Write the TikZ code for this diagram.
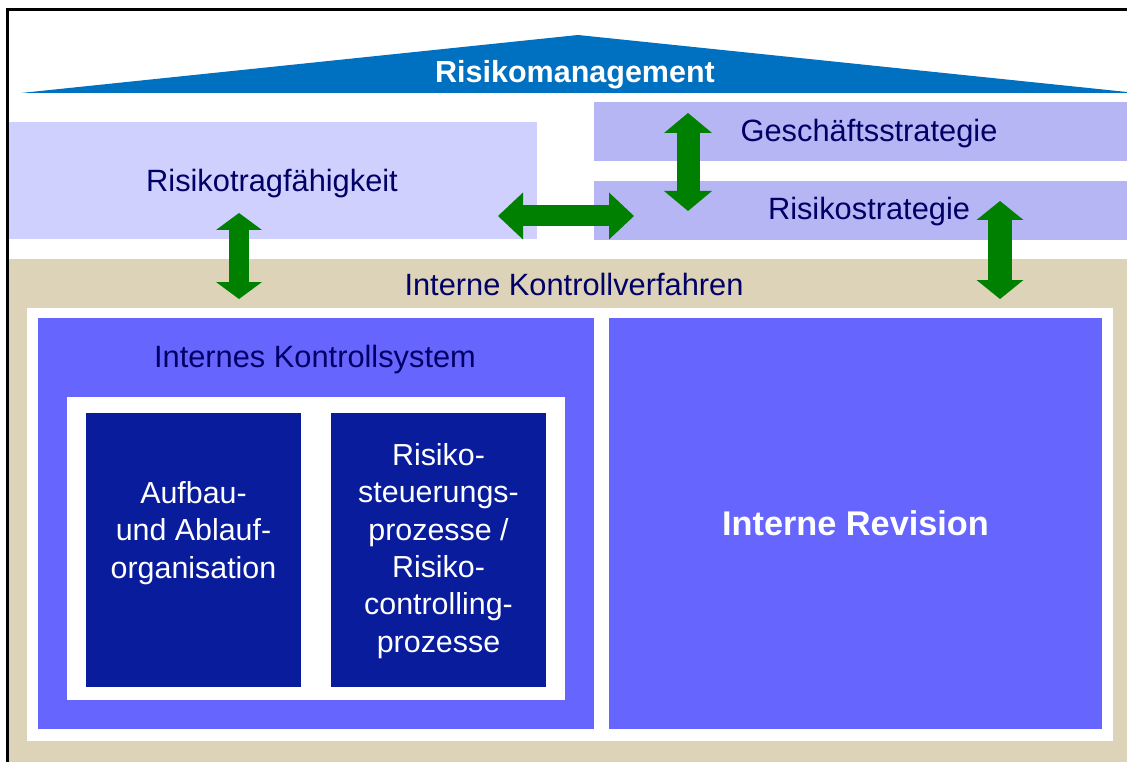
\documentclass[tikz,border=0pt]{standalone}
\usepackage{fontspec}
\setmainfont{Liberation Sans}
\usetikzlibrary{arrows.meta}
\definecolor{roofblue}{HTML}{0070C0}
\definecolor{navy}{HTML}{000066}
\definecolor{tanbg}{HTML}{DDD3B8}
\definecolor{midblue}{HTML}{6666FF}
\definecolor{darkblue}{HTML}{081C9C}
\definecolor{dotleft}{HTML}{D0D0FF}
\definecolor{dotright}{HTML}{B6B6F4}
\definecolor{arrowgreen}{HTML}{008000}
\begin{document}
\begin{tikzpicture}[x=1pt,y=-1pt,
  box/.style={inner sep=0pt, outer sep=0pt, anchor=north west, draw=none},
  lbl/.style={font=\fontsize{30.8}{36}\selectfont, text=navy, inner sep=0pt, anchor=base},
  whitetext/.style={font=\fontsize{30.4}{37.4}\selectfont, text=white, inner sep=0pt, align=center},
  greenarrow/.style args={#1/#2/#3}{draw=arrowgreen, line width=#1,
     arrows={Triangle[length=#2,width=#3,line width=0pt]-Triangle[length=#2,width=#3,line width=0pt]}}
]
\useasboundingbox (0,0) rectangle (1127,762);
\clip (0,0) rectangle (1127,762);
\fill[white] (0,0) rectangle (1127,762);

% roof
\fill[roofblue] (21,93) -- (578,35) -- (1127,92) -- (1127,93) -- cycle;
\node[inner sep=0pt, anchor=base, text=white, font=\fontsize{30.5}{36}\bfseries] (rm) at (575,83) {Risikomanagement};

% dotted strategy areas
\node[box, fill=dotleft, minimum width=529pt, minimum height=117pt] (rtfbox) at (8,122) {};
\node[box, fill=dotright, minimum width=546pt, minimum height=59pt] (gsbox) at (594,102) {};
\node[box, fill=dotright, minimum width=546pt, minimum height=59pt] (rsbox) at (594,181) {};
\node[lbl] (rtf) at (272,192) {Risikotragfähigkeit};
\node[lbl] (gs) at (869,142) {Geschäftsstrategie};
\node[lbl] (rs) at (869,220) {Risikostrategie};

% internal control procedures
\node[box, fill=tanbg, minimum width=1132pt, minimum height=520pt] (ikv) at (8,259) {};
\node[lbl] (ikvt) at (574,295) {Interne Kontrollverfahren};
\node[box, fill=white, minimum width=1086pt, minimum height=433pt] (wb) at (27,308) {};
\node[box, fill=midblue, minimum width=556pt, minimum height=411pt] (iks) at (38,318) {};
\node[box, fill=midblue, minimum width=493pt, minimum height=411pt] (ir) at (609,318) {};
\node[lbl] (ikst) at (315,367) {Internes Kontrollsystem};
\node[box, fill=white, minimum width=498pt, minimum height=303pt] (iw) at (67,397) {};
\node[box, fill=darkblue, minimum width=215pt, minimum height=274pt] (aa) at (86,413) {};
\node[box, fill=darkblue, minimum width=215pt, minimum height=274pt] (rsp) at (331,413) {};
\node[whitetext] (aat) at (193.5,533) {Aufbau-\\und Ablauf-\\organisation};
\node[whitetext] (rspt) at (438.5,551) {Risiko-\\steuerungs-\\prozesse /\\Risiko-\\controlling-\\prozesse};
\node[inner sep=0pt, anchor=base, text=white, font=\fontsize{34.3}{40}\bfseries] (irt) at (855.5,535) {Interne Revision};

% outer frame
\draw[black, line width=3pt] (7,10) rectangle (1160,800);

% arrows
\coordinate (a1t) at (239,213); \coordinate (a1b) at (239,299);
\coordinate (a2l) at (498,216); \coordinate (a2r) at (634,216);
\coordinate (a3t) at (688,113); \coordinate (a3b) at (688,211);
\coordinate (a4t) at (1000,201); \coordinate (a4b) at (1000,299);
\draw[greenarrow={20pt/17pt/46pt}] (a1t) -- (a1b);
\draw[greenarrow={21pt/25pt/47pt}] (a2l) -- (a2r);
\draw[greenarrow={23pt/20pt/48pt}] (a3t) -- (a3b);
\draw[greenarrow={24pt/19pt/47pt}] (a4t) -- (a4b);
\end{tikzpicture}
\end{document}
